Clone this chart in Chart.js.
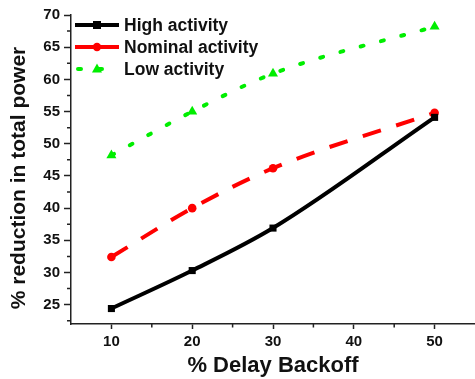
<!DOCTYPE html>
<html>
<head>
<meta charset="utf-8">
<script src="https://cdn.jsdelivr.net/npm/chart.js@4.4.0/dist/chart.umd.min.js"></script>
<style>
html,body{margin:0;padding:0;background:#fff;}
#wrap{position:relative;width:475px;height:379px;}
</style>
</head>
<body>
<div id="wrap"><canvas id="c" width="475" height="379"></canvas></div>
<script>
const xValues = [10, 20, 30, 50];
const highActivity = [24.4, 30.3, 36.9, 54.1];
const nominalActivity = [32.4, 40.0, 46.2, 54.8];
const lowActivity = [48.2, 55.0, 60.9, 68.2];
const seriesNames = ['High activity', 'Nominal activity', 'Low activity'];
const xTitle = '% Delay Backoff';
const yTitle = '% reduction in total power';
const xTicks = [10, 15, 20, 25, 30, 35, 40, 45, 50];
const yTicks = [22.5, 25, 27.5, 30, 32.5, 35, 37.5, 40, 42.5, 45, 47.5, 50, 52.5, 55, 57.5, 60, 62.5, 65, 67.5, 70];

const FONT = "'Liberation Sans', Arial, sans-serif";
const AXIS = '#222';
const GREEN = '#00ee00';

function pts(ys){ return xValues.map((x,i)=>({x:x,y:ys[i]})); }

const minorTicks = {
  id:'minorTicks',
  afterDraw(chart){
    const ctx = chart.ctx;
    const xs = chart.scales.x, ys = chart.scales.y;
    ctx.save();
    ctx.strokeStyle = AXIS; ctx.lineWidth = 1.5;
    ctx.beginPath();
    xTicks.forEach(v=>{ if (v%10!==0){ const p = xs.getPixelForValue(v); ctx.moveTo(p, xs.top); ctx.lineTo(p, xs.top+3.5);} });
    yTicks.forEach(v=>{ if (v%5!==0){ const p = ys.getPixelForValue(v); ctx.moveTo(ys.right, p); ctx.lineTo(ys.right-4, p);} });
    ctx.stroke();
    ctx.restore();
  }
};

const yAxisTitle = {
  id:'yAxisTitle',
  afterDraw(chart){
    const ctx = chart.ctx;
    ctx.save();
    ctx.translate(19, 178);
    ctx.rotate(-Math.PI/2);
    ctx.fillStyle = '#111';
    ctx.font = "bold 21px " + FONT;
    ctx.textAlign = 'center';
    ctx.textBaseline = 'middle';
    ctx.fillText(yTitle, 0, 0);
    ctx.restore();
  }
};

const innerLegend = {
  id:'innerLegend',
  afterDatasetsDraw(chart){
    const ctx = chart.ctx;
    const rows = [25, 47, 69];
    ctx.save();
    chart.data.datasets.forEach((ds,i)=>{
      const y = rows[i];
      ctx.strokeStyle = ds.borderColor;
      ctx.lineWidth = ds.borderWidth;
      ctx.lineCap = ds.borderCapStyle || 'butt';
      ctx.setLineDash(i===2 ? [3,18] : []);
      ctx.lineDashOffset = i===2 ? -2 : 0;
      ctx.beginPath(); ctx.moveTo(i===2?76:75, y); ctx.lineTo(119, y); ctx.stroke();
      ctx.setLineDash([]);
      ctx.fillStyle = ds.pointBackgroundColor;
      const mx = 97;
      if (ds.pointStyle==='rect'){ ctx.fillRect(mx-4, y-4, 8, 8); }
      else if (ds.pointStyle==='circle'){ ctx.beginPath(); ctx.arc(mx, y, 4.2, 0, Math.PI*2); ctx.fill(); }
      else { ctx.beginPath(); ctx.moveTo(mx, y-5.5); ctx.lineTo(mx+5, y+3.5); ctx.lineTo(mx-5, y+3.5); ctx.closePath(); ctx.fill(); }
      ctx.fillStyle = '#111';
      ctx.font = "bold 17.5px " + FONT;
      ctx.textBaseline = 'middle';
      ctx.textAlign = 'left';
      ctx.fillText(seriesNames[i], 124, y+1);
    });
    ctx.restore();
  }
};

new Chart(document.getElementById('c'), {
  type:'line',
  data:{
    datasets:[
      { label:seriesNames[0], data:pts(highActivity), borderColor:'#000', backgroundColor:'#000',
        pointBackgroundColor:'#000', pointBorderColor:'#000', borderWidth:4, pointStyle:'rect', pointRadius:5,
        pointBorderWidth:0, cubicInterpolationMode:'monotone' },
      { label:seriesNames[1], data:pts(nominalActivity), borderColor:'#ff0000', backgroundColor:'#ff0000',
        pointBackgroundColor:'#ff0000', pointBorderColor:'#ff0000', borderWidth:4, pointStyle:'circle', pointRadius:4.3,
        pointBorderWidth:0, borderDash:[19,16], cubicInterpolationMode:'monotone' },
      { label:seriesNames[2], data:pts(lowActivity), borderColor:GREEN, backgroundColor:GREEN,
        pointBackgroundColor:GREEN, pointBorderColor:GREEN, borderWidth:4, pointStyle:'triangle', pointRadius:5.8,
        pointBorderWidth:0, borderDash:[3,18], borderCapStyle:'round', cubicInterpolationMode:'monotone' }
    ]
  },
  options:{
    responsive:false, animation:false,
    layout:{ autoPadding:false, padding:{ top:15, right:0, left:0, bottom:0 } },
    plugins:{ legend:{display:false}, tooltip:{enabled:false} },
    scales:{
      x:{ type:'linear', min:5, max:55,
        afterBuildTicks(s){ s.ticks = xTicks.map(v=>({value:v})); },
        afterFit(s){ s.height = 55; s.paddingRight = 0; s.paddingLeft = 0; },
        ticks:{ autoSkip:false, maxRotation:0, padding:4, color:'#111',
          font:{ family:FONT, size:15, weight:'bold' },
          callback:(v)=> v%10===0 ? String(v) : '' },
        grid:{ drawOnChartArea:false, tickLength:5, tickWidth:1.5,
          tickColor:(c)=> (c.tick && c.tick.value%10===0) ? AXIS : 'rgba(0,0,0,0)' },
        border:{ display:true, color:AXIS, width:1.5 },
        title:{ display:true, text:xTitle, color:'#111',
          font:{ family:FONT, size:22, weight:'bold' }, padding:{ top:0, bottom:0 } }
      },
      y:{ min:22, max:70,
        afterBuildTicks(s){ s.ticks = yTicks.map(v=>({value:v})); },
        afterFit(s){ s.width = 71; s.paddingTop = 0; s.paddingBottom = 0; },
        ticks:{ autoSkip:false, padding:4, color:'#111',
          font:{ family:FONT, size:15, weight:'bold' },
          callback:(v)=> v%5===0 ? String(v) : '' },
        grid:{ drawOnChartArea:false, tickLength:7, tickWidth:1.5,
          tickColor:(c)=> (c.tick && c.tick.value%5===0) ? AXIS : 'rgba(0,0,0,0)' },
        border:{ display:true, color:AXIS, width:1.5 },
        title:{ display:false, text:yTitle }
      }
    }
  },
  plugins:[minorTicks, innerLegend, yAxisTitle]
});
</script>
</body>
</html>
